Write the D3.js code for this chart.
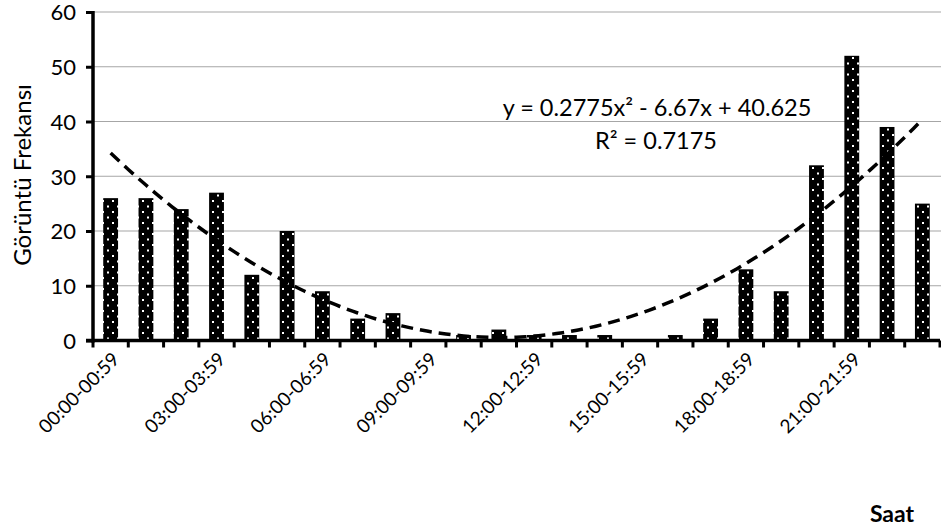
<!DOCTYPE html>
<html lang="tr">
<head>
<meta charset="utf-8">
<title>Görüntü Frekansı</title>
<script src="https://d3js.org/d3.v7.min.js"></script>
<style>
  body { margin: 0; background: #fff; }
  text { font-family: Lato, "Open Sans", sans-serif; fill: #000; }
</style>
</head>
<body>
<svg width="941" height="532"></svg>
<script>

// hours of day, one bar per hour
var hours = ["00:00-00:59","01:00-01:59","02:00-02:59","03:00-03:59","04:00-04:59","05:00-05:59",
             "06:00-06:59","07:00-07:59","08:00-08:59","09:00-09:59","10:00-10:59","11:00-11:59",
             "12:00-12:59","13:00-13:59","14:00-14:59","15:00-15:59","16:00-16:59","17:00-17:59",
             "18:00-18:59","19:00-19:59","20:00-20:59","21:00-21:59","22:00-22:59","23:00-23:59"];
var counts = [26, 26, 24, 27, 12, 20, 9, 4, 5, 0, 1, 2, 1, 1, 1, 0, 1, 4, 13, 9, 32, 52, 39, 25];
var yTicks = [0, 10, 20, 30, 40, 50, 60];
// poly trendline as printed on the chart (x = 1..24)
var trendCoef = [0.2775, -6.67, 40.625];
var trendLabel = "y = 0.2775x² - 6.67x + 40.625";
var r2Label = "R² = 0.7175";

var svg = d3.select("svg"),
    mLeft = 93, mRight = 940, mTop = 12, mBottom = 340.5;

var x = d3.scaleBand()
    .domain(hours)
    .range([mLeft, mRight])
    .paddingInner(0.58)
    .paddingOuter(0.29);

var y = d3.scaleLinear()
    .domain([0, 60])
    .range([mBottom, mTop]);

// dotted fill for the bars
var pat = svg.append("defs").append("pattern")
    .attr("id", "dots")
    .attr("patternUnits", "userSpaceOnUse")
    .attr("width", 10).attr("height", 11);
pat.append("rect").attr("width", 10).attr("height", 11).attr("fill", "#000");
pat.append("rect").attr("x", 2).attr("y", 2).attr("width", 2).attr("height", 2).attr("fill", "#fff");
pat.append("rect").attr("x", 7).attr("y", 7.5).attr("width", 2).attr("height", 2).attr("fill", "#fff");

// gridlines
svg.append("g")
  .selectAll("line")
  .data(yTicks.slice(1))
  .enter().append("line")
    .attr("x1", mLeft).attr("x2", 941)
    .attr("y1", function(d) { return y(d); })
    .attr("y2", function(d) { return y(d); })
    .attr("stroke", "#a6a6a6")
    .attr("stroke-width", 1.2);

// bars
svg.append("g")
  .selectAll("rect")
  .data(counts)
  .enter().append("rect")
    .attr("x", function(d, i) { return x(hours[i]); })
    .attr("y", function(d) { return y(d); })
    .attr("width", x.bandwidth())
    .attr("height", function(d) { return mBottom - y(d); })
    .attr("fill", "url(#dots)");

// trendline
var line = d3.line()
    .x(function(d) { return d[0]; })
    .y(function(d) { return y(d[1]); })
    .curve(d3.curveMonotoneX);
var pts = [];
for (var t = 1; t <= 24; t += 0.25) {
  var v = trendCoef[0] * t * t + trendCoef[1] * t + trendCoef[2];
  var px = x(hours[0]) + x.bandwidth() / 2 + (t - 1) * x.step();
  pts.push([px, v]);
}
svg.append("path")
    .attr("d", line(pts))
    .attr("fill", "none")
    .attr("stroke", "#000")
    .attr("stroke-width", 3.5)
    .attr("stroke-dasharray", "12,7");

// y axis
var yAxis = svg.append("g")
    .attr("transform", "translate(" + mLeft + ",0)")
    .call(d3.axisLeft(y).tickValues(yTicks).tickSize(7).tickPadding(10));
yAxis.select(".domain").attr("stroke-width", 3.5).attr("d", "M0," + (mBottom + 2) + "V" + (mTop - 1));
yAxis.selectAll(".tick line").attr("stroke-width", 3);
yAxis.selectAll(".tick text")
    .style("font-size", "22px")
    .style("font-family", "Lato, sans-serif")
    .attr("dy", "0.36em");

// x axis, ticks at category boundaries
var xg = svg.append("g");
xg.append("line")
    .attr("x1", mLeft - 7).attr("x2", mRight)
    .attr("y1", mBottom).attr("y2", mBottom)
    .attr("stroke", "#000").attr("stroke-width", 3.5);
xg.selectAll("line.tk")
  .data(d3.range(hours.length + 1))
  .enter().append("line")
    .attr("class", "tk")
    .attr("x1", function(i) { return mLeft + i * x.step(); })
    .attr("x2", function(i) { return mLeft + i * x.step(); })
    .attr("y1", mBottom).attr("y2", mBottom + 7)
    .attr("stroke", "#000").attr("stroke-width", 3);
xg.selectAll("text")
  .data(hours.filter(function(d, i) { return i % 3 === 0; }))
  .enter().append("text")
    .attr("transform", function(d) {
      var cx = x(d) + x.bandwidth() / 2 + 10;
      return "translate(" + cx + "," + (mBottom + 20) + ") rotate(-45)";
    })
    .attr("text-anchor", "end")
    .style("font-size", "19px")
    .text(function(d) { return d; });

// titles
svg.append("text")
    .attr("transform", "translate(31,175) rotate(-90)")
    .attr("text-anchor", "middle")
    .style("font-size", "24px")
    .text("Görüntü Frekansı");

svg.append("text")
    .attr("x", 892).attr("y", 522)
    .attr("text-anchor", "middle")
    .style("font-size", "23px")
    .style("font-weight", "bold")
    .text("Saat");

// trendline label
svg.append("text")
    .attr("x", 657).attr("y", 116)
    .attr("text-anchor", "middle")
    .style("font-size", "23.5px")
    .text(trendLabel);
svg.append("text")
    .attr("x", 656).attr("y", 149)
    .attr("text-anchor", "middle")
    .style("font-size", "23.5px")
    .text(r2Label);

</script>
</body>
</html>
